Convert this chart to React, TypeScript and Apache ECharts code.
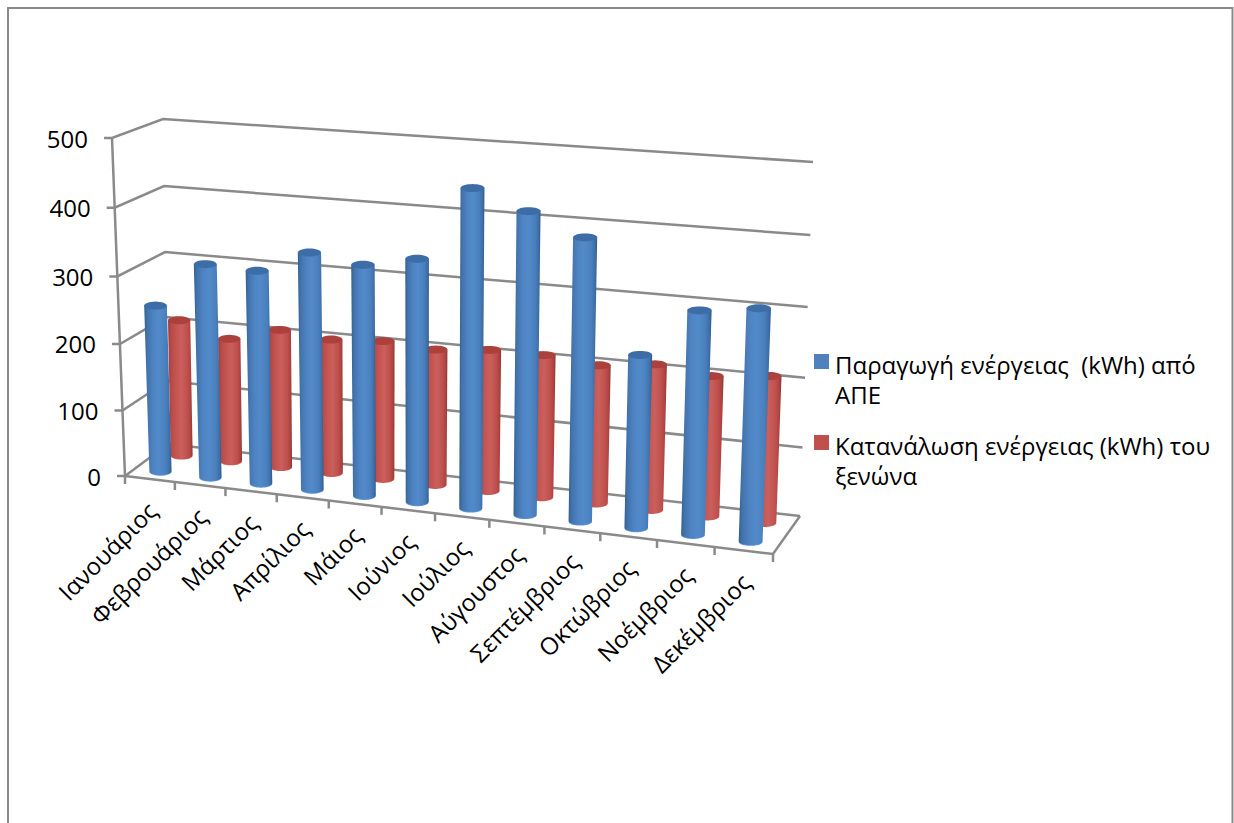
import React, { useEffect, useRef } from "react";
import * as echarts from "echarts";

const months = ["Ιανουάριος","Φεβρουάριος","Μάρτιος","Απρίλιος","Μάιος","Ιούνιος","Ιούλιος","Αύγουστος","Σεπτέμβριος","Οκτώβριος","Νοέμβριος","Δεκέμβριος"];
const production = [251,319,316,349,338,353,458,432,402,246,315,325];
const consumption = [209,188,209,202,207,202,209,209,202,211,202,210];
const yTicks = [0,100,200,300,400,500];
const seriesNames = ["Παραγωγή ενέργειας  (kWh) από\nΑΠΕ","Κατανάλωση ενέργειας (kWh) του\nξενώνα"];

type P = [number, number];
const FLB: P = [125,476], FRB: P = [773,554], BLB: P = [168,444], BRB: P = [800,516];
const FLT: P = [112,138], FRT: P = [787,186], BLT: P = [163,119], BRT: P = [813,162];
const lerp = (a: P, b: P, k: number): P => [a[0]+(b[0]-a[0])*k, a[1]+(b[1]-a[1])*k];
const warp = (f: number, k: number) => f/(f+k*(1-f));
const project = (t0: number, v0: number, d: number): P => {
  const t = warp(t0, 1.09), v = warp(v0, 1.04);
  const bot = lerp(lerp(FLB,FRB,t), lerp(BLB,BRB,t), d);
  const top = lerp(lerp(FLT,FRT,t), lerp(BLT,BRT,t), d);
  return lerp(bot, top, v);
};
const FONT = "Open Sans";
const GRAY = "#8a8a8a";
const offsets = [0,0.12,0.35,0.55,0.8,0.93,1];
const grad = (stops: string[]) => ({
  type: "linear", x: 0, y: 0, x2: 1, y2: 0,
  colorStops: stops.map((color, i) => ({ offset: offsets[i], color })),
});
const frac = (api: any, params: any, cat: number, val: number): [number, number] => {
  const c = api.coord([cat, val]);
  const r = params.coordSys;
  return [(c[0]-r.x)/r.width, (r.y+r.height-c[1])/r.height];
};
const ellipsePts = (cx: number, cy: number, rx: number, ry: number, from: number, to: number, n = 32) => {
  const pts: P[] = [];
  for (let i = 0; i <= n; i++) {
    const a = from + (to-from)*i/n;
    pts.push([cx+rx*Math.cos(a), cy+ry*Math.sin(a)]);
  }
  return pts;
};
const cylinder = (depth: number, body: string[], cap: string, rim: string) => (params: any, api: any) => {
  const cat = api.value(0), val = api.value(1);
  const [t, v] = frac(api, params, cat, val);
  const hw = (0.225-0.02*t)/12;
  const bl = project(t-hw,0,depth), br = project(t+hw,0,depth);
  const tl = project(t-hw,v,depth), tr = project(t+hw,v,depth);
  const bc = lerp(bl,br,0.5), tc = lerp(tl,tr,0.5);
  const brx = (br[0]-bl[0])/2, trx = (tr[0]-tl[0])/2;
  const pts: P[] = [[tc[0]-trx,tc[1]], ...ellipsePts(bc[0],bc[1],brx,4,Math.PI,0), [tc[0]+trx,tc[1]]];
  return {
    type: "group",
    children: [
      { type: "polygon", shape: { points: ellipsePts(bc[0],bc[1]+0.8,brx,4,Math.PI,0) }, style: { fill: rim } },
      { type: "polygon", shape: { points: pts }, style: { fill: grad(body) } },
      { type: "polygon", shape: { points: ellipsePts(tc[0],tc[1],trx,4,0,Math.PI*2) }, style: { fill: cap } },
    ],
  };
};
const blueBody = ["#33608f","#4274ad","#4f84c4","#528ac9","#4a7fbd","#3c6ea6","#2f5a8a"];
const redBody = ["#9a3b38","#b54a47","#c75552","#c9605c","#bf4f4c","#aa4340","#8a3432"];

export default function App() {
  const ref = useRef<HTMLDivElement>(null);
  useEffect(() => {
    document.body.style.margin = "0";
    const chart = echarts.init(ref.current!, null, { renderer: "svg" });
    const line = (pts: P[]) => ({ type: "polyline", shape: { points: pts }, style: { stroke: GRAY, lineWidth: 2.5, fill: "none" } });
    chart.setOption({
      animation: false,
      grid: { left: 112, top: 137, width: 661, height: 338 },
      xAxis: { type: "category", data: months, show: false },
      yAxis: { type: "value", min: 0, max: 500, interval: 100, show: false },
      graphic: [
        { type: "polyline", shape: { points: [[8,830],[8,8],[1232.5,8],[1232.5,830]] }, style: { stroke: GRAY, lineWidth: 2, fill: "none" } },
        { type: "rect", shape: { x: 814, y: 354, width: 15, height: 15 }, style: { fill: "#4f81bd" } },
        { type: "text", x: 835, y: 349, style: { text: seriesNames[0], font: `24px '${FONT}'`, lineHeight: 30, fill: "#000" } },
        { type: "rect", shape: { x: 814, y: 435, width: 15, height: 15 }, style: { fill: "#c0504d" } },
        { type: "text", x: 835, y: 430, style: { text: seriesNames[1], font: `24px '${FONT}'`, lineHeight: 30, fill: "#000" } },
      ],
      series: [
        {
          type: "custom", coordinateSystem: "cartesian2d", silent: true, clip: false, z: 1,
          data: yTicks.map((y) => [0, y]),
          renderItem: (params: any, api: any) => {
            const [, v] = frac(api, params, 0, api.value(1));
            const f = project(0,v,0);
            const tick: P = [f[0]-8, f[1]];
            return {
              type: "group",
              children: [
                line([tick, f, project(0,v,1), project(1,v,1)]),
                { type: "text", x: f[0]-24, y: f[1], style: { text: String(yTicks[params.dataIndex]), align: "right", verticalAlign: "middle", font: `24px '${FONT}'`, fill: "#000" } },
              ],
            };
          },
        },
        {
          type: "custom", coordinateSystem: "cartesian2d", silent: true, clip: false, z: 1,
          data: [[0, 0]],
          renderItem: () => ({
            type: "group",
            children: [
              line([project(0,0,0), project(0,1,0)]),
              line([project(0,0,0), project(1,0,0), project(1,0,1)]),
            ],
          }),
        },
        {
          type: "custom", coordinateSystem: "cartesian2d", silent: true, clip: false, z: 1,
          data: months.map((_, i) => [i, 0]),
          renderItem: (params: any, api: any) => {
            const [tc] = frac(api, params, api.value(0), 0);
            const hw = 0.5/12;
            const left = project(tc-hw,0,0), right = project(tc+hw,0,0), mid = project(tc,0,0);
            const children: any[] = [
              line([right, [right[0], right[1]+8]]),
              { type: "text", x: mid[0]+2, y: mid[1]+27, rotation: Math.PI/4, style: { text: months[params.dataIndex], align: "right", verticalAlign: "middle", font: `24px '${FONT}'`, fill: "#000" } },
            ];
            if (params.dataIndex === 0) children.push(line([left, [left[0], left[1]+8]]));
            return { type: "group", children };
          },
        },
        {
          name: seriesNames[1], type: "custom", coordinateSystem: "cartesian2d", silent: true, clip: false, z: 2,
          data: consumption.map((v, i) => [i, v]),
          encode: { x: 0, y: 1 },
          renderItem: cylinder(0.75, redBody, "#ac403d", "#c95a57"),
        },
        {
          name: seriesNames[0], type: "custom", coordinateSystem: "cartesian2d", silent: true, clip: false, z: 3,
          data: production.map((v, i) => [i, v]),
          encode: { x: 0, y: 1 },
          renderItem: cylinder(0.25, blueBody, "#3d6da6", "#5a97dc"),
        },
      ],
    });
    return () => chart.dispose();
  }, []);
  return <div ref={ref} style={{ width: 1234, height: 823 }} />;
}
